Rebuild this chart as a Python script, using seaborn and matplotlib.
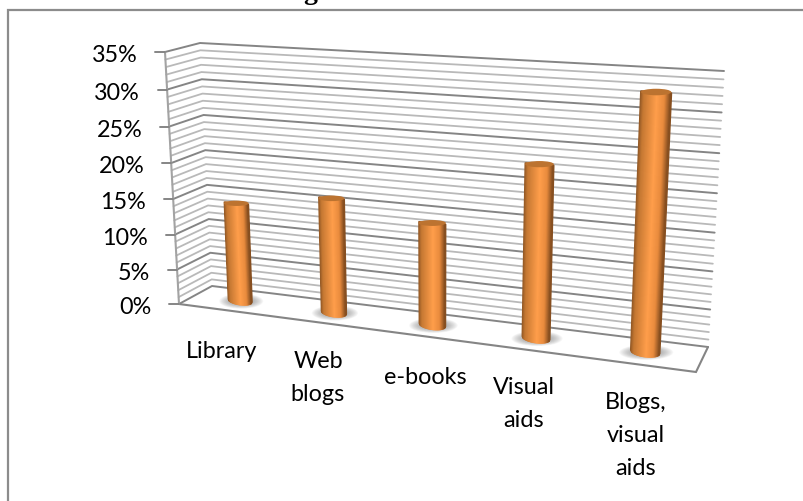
import numpy as np
import pandas as pd
import matplotlib
matplotlib.use("Agg")
import matplotlib.pyplot as plt
from matplotlib.collections import PolyCollection
from matplotlib.colors import LinearSegmentedColormap
from matplotlib.patches import Ellipse
from matplotlib.transforms import Transform
import seaborn as sns

categories = ["Library", "Web\nblogs", "e-books", "Visual\naids", "Blogs,\nvisual\naids"]
shares = [14, 16, 14, 23, 33]
major_ticks = [0, 5, 10, 15, 20, 25, 30, 35]
minor_ticks = [v for v in range(36) if v % 5]
tick_labels = [f"{v}%" for v in major_ticks]

W, H = 804, 502
X_RANGE = (-0.5, 4.5)
Y_RANGE = (0, 35)


def solve_homography(corners, xr=X_RANGE, yr=Y_RANGE):
    """Matrix sending the (x, y) data rectangle onto a quad (LB, RB, RT, LT)."""
    src = [(xr[0], yr[0]), (xr[1], yr[0]), (xr[1], yr[1]), (xr[0], yr[1])]
    A, b = [], []
    for (x, y), (u, v) in zip(src, corners):
        A.append([x, y, 1, 0, 0, 0, -u * x, -u * y])
        A.append([0, 0, 0, x, y, 1, -v * x, -v * y])
        b += [u, v]
    return np.append(np.linalg.solve(np.array(A, float), np.array(b, float)), 1).reshape(3, 3)


class PlaneProjection(Transform):
    """Perspective mapping of a chart plane into canvas coordinates."""
    input_dims = output_dims = 2

    def __init__(self, matrix):
        super().__init__()
        self.matrix = matrix

    def transform_non_affine(self, xy):
        pts = np.column_stack([xy, np.ones(len(xy))]) @ self.matrix.T
        return pts[:, :2] / pts[:, 2:]

    def transform(self, xy):
        return self.transform_non_affine(np.asarray(xy, float))


# The three planes of the 3-D box and the plane the cylinders stand in.
back_wall = PlaneProjection(solve_homography([(212, 287), (708, 348), (724, 72), (200, 44)]))
front_plane = PlaneProjection(solve_homography([(179, 305), (696, 373), (710, 89), (165, 53)]))
bar_plane = PlaneProjection(solve_homography([(195, 296), (702, 360), (717, 80), (183, 48)]))

sns.set_theme(style="white")
plt.rcParams["font.family"] = ["Lato", "DejaVu Sans"]

fig = plt.figure(figsize=(W / 100, H / 100), dpi=100, facecolor="white")
ax = fig.add_axes([0, 0, 1, 1])

# Grid lines run along the side wall and then along the back wall.
rows = []
for kind, levels in (("minor", minor_ticks), ("major", major_ticks)):
    for v in levels:
        path = np.vstack([
            front_plane.transform([[X_RANGE[0], v]]),
            back_wall.transform([[X_RANGE[0], v], [X_RANGE[1], v]]),
        ])
        for order, (px, py) in enumerate(path):
            rows.append({"px": px, "py": py, "level": v, "kind": kind, "order": order})
grid = pd.DataFrame(rows)
sns.lineplot(data=grid[grid.kind == "minor"], x="px", y="py", units="level", estimator=None,
             sort=False, color="#B9B9B9", lw=1.3, ax=ax, zorder=1)
sns.lineplot(data=grid[grid.kind == "major"], x="px", y="py", units="level", estimator=None,
             sort=False, color="#858585", lw=1.4, ax=ax, zorder=1.5)

# Floor outline and the value axis.
corner_front_left = front_plane.transform([[X_RANGE[0], 0]])[0]
corner_front_right = front_plane.transform([[X_RANGE[1], 0]])[0]
corner_back_right = back_wall.transform([[X_RANGE[1], 0]])[0]
corner_front_top = front_plane.transform([[X_RANGE[0], Y_RANGE[1]]])[0]
floor = np.array([corner_front_left, corner_front_right, corner_back_right])
ax.plot(floor[:, 0], floor[:, 1], color="#858585", lw=1.5, zorder=1.6, solid_joinstyle="miter")
ax.plot([corner_front_left[0], corner_front_top[0]], [corner_front_left[1], corner_front_top[1]],
        color="#A3A3A3", lw=1.5, zorder=1.6)

for v, label in zip(major_ticks, tick_labels):
    fx, fy = front_plane.transform([[X_RANGE[0], v]])[0]
    ax.plot([fx - 9.5, fx], [fy, fy], color="#858585", lw=1.4, zorder=1.6)
    ax.text(fx - 27, fy + 2.5, label, ha="right", va="center", fontsize=16.8, color="black")

# Bars come from seaborn, then go through the perspective of their plane.
plot_frame = pd.DataFrame({"category": categories, "share": shares})
sns.barplot(data=plot_frame, x="category", y="share", color="#F08A35", width=0.26,
            saturation=1, ax=ax, zorder=3)
ax.set_xlim(0, W)
ax.set_ylim(H, 0)
ax.set_axis_off()

shade = LinearSegmentedColormap.from_list(
    "cylinder", [(0, "#8E5524"), (0.12, "#C57832"), (0.55, "#FF9E4B"), (0.8, "#E98B3D"), (1, "#7F4A1E")]
)
STRIPS = 30
CAP_RATIO = 0.17
for bar in list(ax.patches):
    left, width, height = bar.get_x(), bar.get_width(), bar.get_height()
    bar.set_transform(bar_plane + ax.transData)

    base_l, base_r = bar_plane.transform([[left, 0], [left + width, 0]])
    top_l, top_r = bar_plane.transform([[left, height], [left + width, height]])
    base_c, top_c = (base_l + base_r) / 2, (top_l + top_r) / 2
    half_w = (base_r[0] - base_l[0]) / 2

    # Soft contact shadow on the floor.
    for k in range(12):
        grow = 1 - k / 12
        ax.add_patch(Ellipse((base_c[0] + 1, base_c[1] + 0.5), 2 * half_w * (1 + 0.85 * grow),
                             7 + 8 * grow, facecolor="#707070", alpha=0.05, lw=0, zorder=2))

    # The cylinder body is a row of narrow strips, each tinted across the curve.
    polys, tones = [], []
    for i in range(STRIPS):
        u0, u1 = i / STRIPS, (i + 1) / STRIPS
        d0 = CAP_RATIO * 2 * half_w * np.sqrt(max(0, 1 - (2 * u0 - 1) ** 2))
        d1 = CAP_RATIO * 2 * half_w * np.sqrt(max(0, 1 - (2 * u1 - 1) ** 2))
        t0 = bar_plane.transform([[left + u0 * width, height], [left + u1 * width, height]])
        b0 = bar_plane.transform([[left + u0 * width, 0], [left + u1 * width, 0]])
        polys.append([t0[0], t0[1], b0[1] + [0, d1], b0[0] + [0, d0]])
        tones.append(shade((u0 + u1) / 2))
    ax.add_collection(PolyCollection(polys, facecolors=tones, edgecolors=tones, linewidths=1.0,
                                     joinstyle="round", zorder=4))
    ax.add_patch(Ellipse(top_c, 2 * half_w + 1, 2 * CAP_RATIO * 2 * half_w * 0.66, facecolor="#BC7330",
                         edgecolor="none", zorder=5))
    bar.set_visible(False)

# Category labels, one line at a time.
label_anchors = [(222, 352), (318, 362), (425, 378), (524, 388), (636, 403)]
for text, (lx, ly) in zip(categories, label_anchors):
    for n, line in enumerate(text.split("\n")):
        ax.text(lx, ly + 33 * n, line, ha="center", va="center", fontsize=16.8, color="black")

# Outer frame and the heading that runs off the top edge.
ax.plot([8, 8, W], [H, 10.7, 10.7], color="#8C8C8C", lw=1.6, solid_joinstyle="miter", zorder=6)
ax.text(310, -1, "g", ha="center", va="baseline", fontsize=20, fontweight="bold",
        family="Liberation Serif", color="black", zorder=6)

fig.savefig("out.png", dpi=100, facecolor="white")
